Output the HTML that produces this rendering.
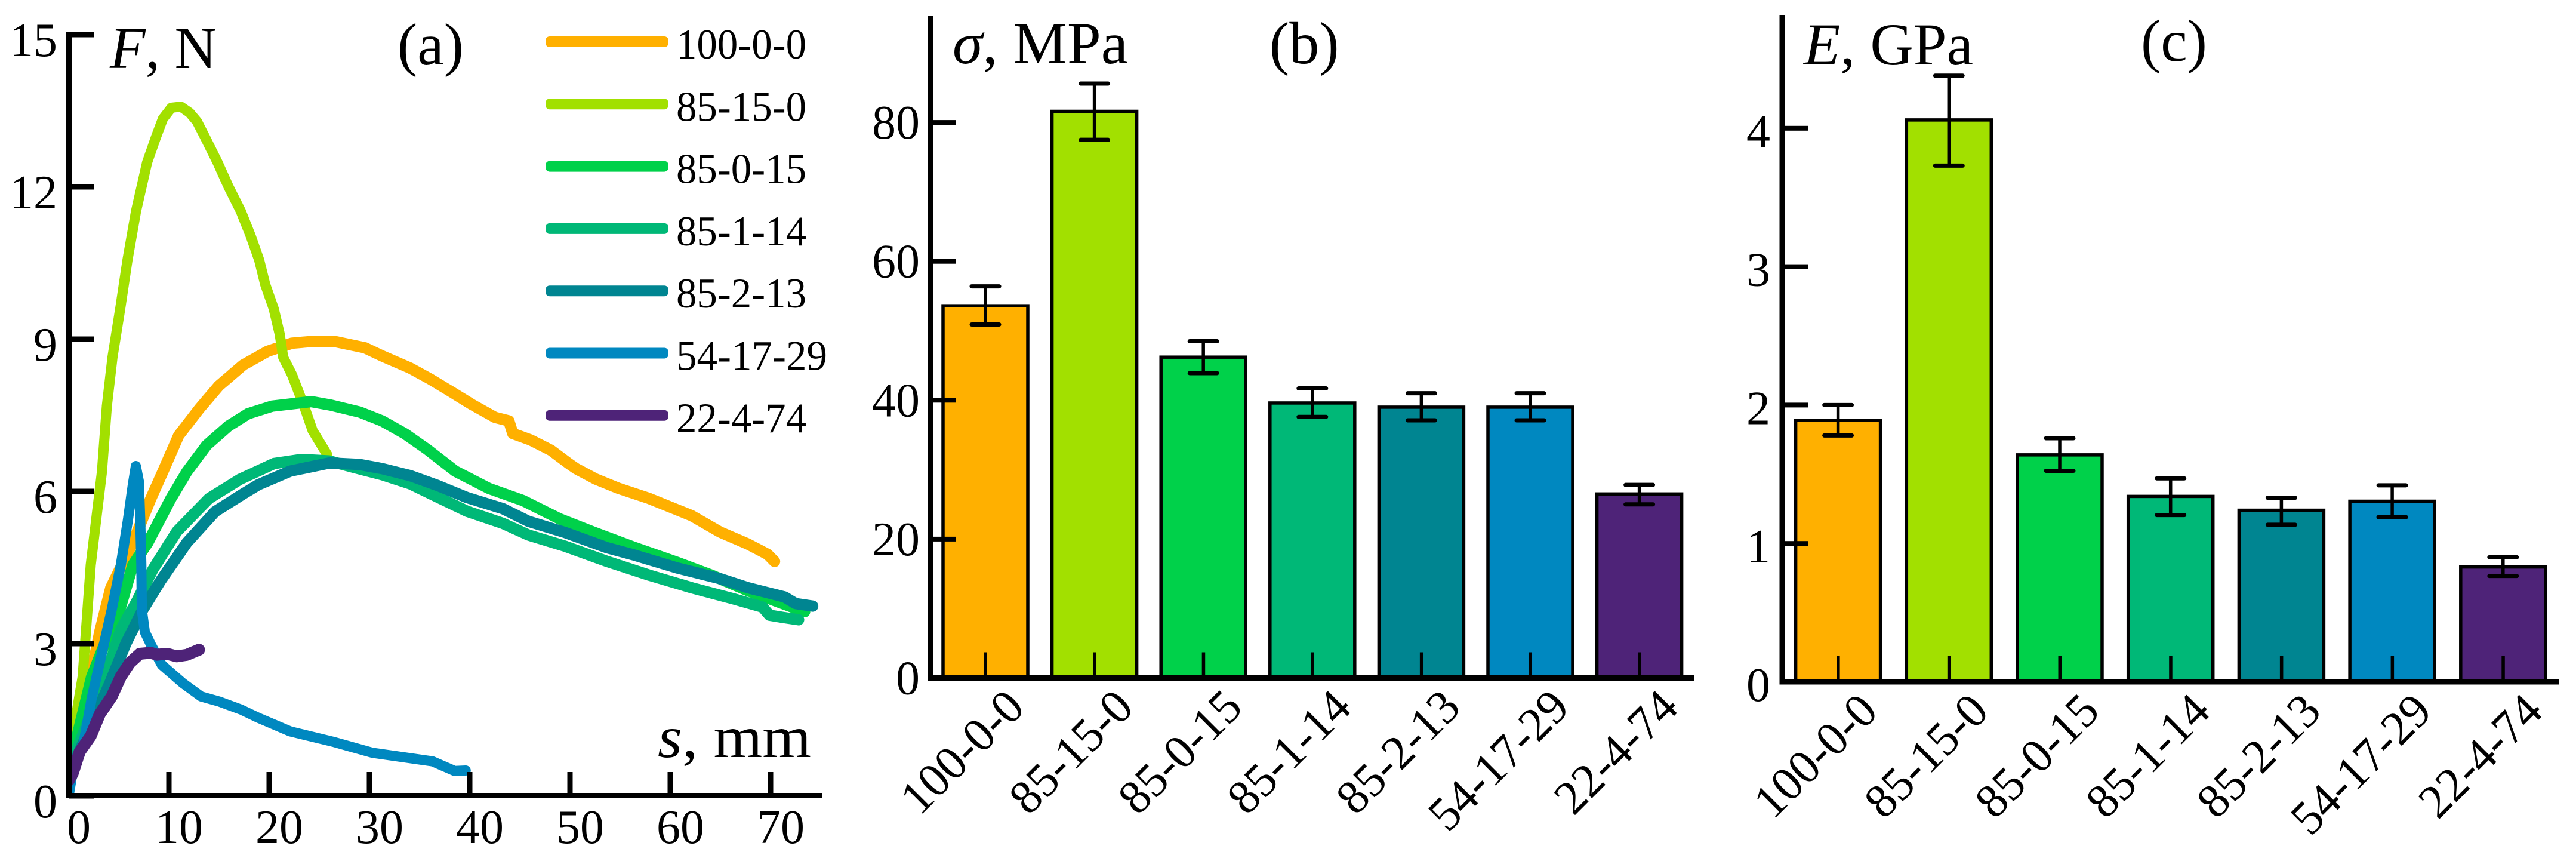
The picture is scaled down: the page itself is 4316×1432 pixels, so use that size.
<!DOCTYPE html>
<html lang="en">
<head>
<meta charset="utf-8">
<title>Mechanical properties charts</title>
<style>
html,body{margin:0;padding:0;background:#fff;}
svg{display:block;}
text{font-family:"Liberation Serif",serif;fill:#000;}
</style>
</head>
<body>
<svg id="fig" xmlns="http://www.w3.org/2000/svg" width="4316" height="1432" viewBox="0 0 4316 1432">
  <rect x="0" y="0" width="4316" height="1432" fill="#fff"/>
  <g id="panelA"></g>
  <g id="panelB"></g>
  <g id="panelC"></g>
  <text x="184" y="114" font-size="100" textLength="179" lengthAdjust="spacingAndGlyphs"><tspan font-style="italic">F</tspan>, N</text>
  <text x="666" y="108" font-size="100">(a)</text>
  <text x="1102" y="1268" font-size="100" textLength="257" lengthAdjust="spacingAndGlyphs"><tspan font-style="italic">s</tspan>, mm</text>
  <text x="1596" y="106" font-size="100" textLength="294" lengthAdjust="spacingAndGlyphs"><tspan font-style="italic">σ</tspan>, MPa</text>
  <text x="2127" y="106" font-size="100">(b)</text>
  <text x="3022" y="108" font-size="100" textLength="284" lengthAdjust="spacingAndGlyphs"><tspan font-style="italic">E</tspan>, GPa</text>
  <text x="3587" y="102" font-size="100">(c)</text>
</svg>
<script>
// ---------- shared data ----------
const categories = ["100-0-0","85-15-0","85-0-15","85-1-14","85-2-13","54-17-29","22-4-74"];
const seriesColors = ["#FFB000","#A2E000","#00D14A","#00B877","#008591","#0088C0","#4E2378"];

// ---------- panel (a): s (mm) and F (N) per series ----------
const s100 = [0,1.2,2.2,3.1,4.2,6.4,8.2,9.4,10.97,13.04,14.98,17.4,19.84,22.27,23.97,26.64,29.55,31.25,34.06,36,38.27,40.24,42.5,43.9,44.3,46.1,48.1,49.8,50.6,52.6,54.85,57.9,62.15,64.96,67.77,69.7,70.4];
const f100 = [0.5,1.5,2.35,3.23,4.1,4.99,5.86,6.39,7.1,7.63,8.08,8.49,8.76,8.92,8.95,8.95,8.83,8.67,8.43,8.22,7.95,7.71,7.46,7.39,7.14,7.01,6.81,6.56,6.45,6.24,6.06,5.86,5.52,5.2,4.96,4.76,4.62];
const s8515 = [0,0.3,1.4,2.2,3.32,3.81,4.37,5.14,5.87,6.72,7.82,8.67,9.39,10.25,11.2,12.07,12.8,13.65,14.86,15.95,17.17,18.14,19,19.6,20.45,21.05,21.4,22.27,23.48,24.33,25.8];
const f8515 = [0.6,1.05,2.35,4.55,6.39,7.68,8.64,9.6,10.56,11.52,12.48,12.96,13.34,13.56,13.58,13.46,13.29,12.96,12.48,12,11.52,11.04,10.56,10.08,9.6,9.1,8.64,8.3,7.68,7.2,6.72];
const s8500 = [0,1,2.3,3.6,5.1,6.4,7.9,10.2,11.8,13.77,15.95,17.9,20.3,24.2,26.15,29.07,31.25,33.5,35.75,38.55,41.9,45.3,48.95,52.3,56.5,60.7,64.1,67.8,73.4];
const f8500 = [0.5,1.3,2.35,3,3.67,4.55,4.99,5.86,6.39,6.91,7.29,7.53,7.68,7.77,7.7,7.56,7.39,7.14,6.83,6.4,6.06,5.82,5.46,5.2,4.89,4.6,4.35,4.04,3.63];
const s8501 = [0,2.2,3.7,5.2,6.7,8.4,10.8,14,17.1,20.5,23.2,26,28.5,31.25,34.06,36.87,39.7,43.3,45.86,49.5,53.7,57.9,62.15,66.36,69.2,69.9,71.1,72.8];
const f8501 = [0.5,1.6,2.35,3.28,3.8,4.46,5.21,5.86,6.24,6.55,6.63,6.6,6.47,6.33,6.15,5.88,5.61,5.37,5.14,4.92,4.62,4.35,4.1,3.88,3.72,3.56,3.52,3.47];
const s8502 = [0,2.7,4.1,5.7,7.4,9.2,11.8,14.6,17.4,18.9,22.1,26,29,31.25,34.06,36.87,39.7,43.3,45.86,49.5,53.7,56.5,60.7,64.96,67.77,71.4,72.5,74.2];
const f8502 = [0.4,1.6,2.22,3,3.67,4.25,4.99,5.6,5.95,6.13,6.4,6.56,6.53,6.45,6.31,6.11,5.88,5.66,5.41,5.19,4.89,4.74,4.49,4.28,4.1,3.92,3.79,3.74];
const s5417 = [0,0.3,1.5,2.3,3.3,4.3,5.2,5.9,6.4,6.7,7,7.14,7.25,7.3,7.6,8.2,9.3,11.4,13.2,15,17.2,18.9,22.1,26.5,30.3,36.3,38.5,39.6];
const f5417 = [0,0.35,1.05,1.92,2.8,3.67,4.55,5.42,6.13,6.5,6.2,5.42,4.55,3.67,3.23,2.98,2.58,2.22,1.96,1.86,1.7,1.54,1.27,1.06,0.85,0.68,0.49,0.5];
const s2204 = [0,0.4,1.1,2.2,3.1,4.3,5.2,6.1,7.1,8.2,8.8,9.8,10.8,11.8,13];
const f2204 = [0.3,0.44,0.87,1.18,1.61,1.96,2.35,2.62,2.8,2.82,2.78,2.8,2.75,2.78,2.88];
const xTicksA = [0,10,20,30,40,50,60,70];
const yTicksA = [0,3,6,9,12,15];

// ---------- panel (b): sigma, MPa ----------
const sigmaValues = [53.6,81.6,46.2,39.6,39,39,26.5];
const sigmaErrUp = [56.4,85.6,48.5,41.7,41,41,27.8];
const sigmaErrLow = [50.9,77.5,43.9,37.6,37.1,37.1,25];
const yTicksB = [0,20,40,60,80];

// ---------- panel (c): E, GPa ----------
const modulusValues = [1.89,4.06,1.64,1.34,1.24,1.305,0.83];
const modulusErrUp = [2,4.38,1.76,1.47,1.33,1.42,0.9];
const modulusErrLow = [1.78,3.73,1.525,1.205,1.135,1.19,0.765];
const yTicksC = [0,1,2,3,4];

// ---------- helpers ----------
const NS = "http://www.w3.org/2000/svg";
function mk(parent, tag, attrs, txt){
  const e = document.createElementNS(NS, tag);
  for (const k in attrs) e.setAttribute(k, attrs[k]);
  if (txt !== undefined) e.textContent = txt;
  parent.appendChild(e);
  return e;
}

// ---------- panel (a) ----------
const gA = document.getElementById("panelA");
const xA = s => 115 + s * 16.8;
const yA = f => 1333 - f * 85;
const curvesS = [s100,s8515,s8500,s8501,s8502,s5417,s2204];
const curvesF = [f100,f8515,f8500,f8501,f8502,f5417,f2204];
const curveWidths = [19,17,19,19,19,17,20];
curvesS.forEach((sv, i) => {
  const pts = sv.map((s, j) => xA(s).toFixed(1) + "," + yA(curvesF[i][j]).toFixed(1)).join(" ");
  const line = mk(gA, "polyline", {points: pts, fill: "none", stroke: seriesColors[i], "stroke-width": curveWidths[i], "stroke-linejoin": "round", "stroke-linecap": "round"});
  
  
});
const cover = mk(gA, "rect", {x: 0, y: 0, width: 110, height: 1432, fill: "#fff"});


const coverB = mk(gA, "rect", {x: 100, y: 1337, width: 1300, height: 95, fill: "#fff"});



yTicksA.forEach(v => {
  const t = mk(gA, "rect", {x: 115, y: yA(v) - 4.5, width: 43, height: 9, fill: "#000"});
  
  
  const l = mk(gA, "text", {x: 96, y: yA(v) + 36, "font-size": 80, "text-anchor": "end"}, v);
  
  
});
xTicksA.forEach(v => {
  const t = mk(gA, "rect", {x: xA(v) - 4.5, y: 1293, width: 9, height: 40, fill: "#000"});
  
  
  const l = mk(gA, "text", {x: xA(v) + 17, y: 1412, "font-size": 80, "text-anchor": "middle"}, v);
  
  
});
const axAy = mk(gA, "rect", {x: 110, y: 53, width: 10, height: 1284, fill: "#000"});


const axAx = mk(gA, "rect", {x: 110, y: 1328, width: 1267, height: 9, fill: "#000"});



categories.forEach((c, i) => {
  const ly = 70 + i * 104.3;
  const sw = mk(gA, "rect", {x: 914, y: ly - 9, width: 206, height: 18, rx: 7, fill: seriesColors[i]});
  
  
  const tx = mk(gA, "text", {x: 1133, y: ly + 28, "font-size": 71, textLength: c === "54-17-29" ? 253 : 218, lengthAdjust: "spacingAndGlyphs"}, c);
  
  
});

// ---------- bar panels ----------
function barPanel(id, key, cfg, vals, up, low, ticks){
  const g = document.getElementById(id);
  const y = v => cfg.y0 - v * cfg.k;
  const x = i => cfg.x0 + i * cfg.step;
  categories.forEach((c, i) => {
    const b = mk(g, "rect", {x: x(i) - 71, y: y(vals[i]), width: 142, height: cfg.y0 - y(vals[i]), fill: seriesColors[i], stroke: "#000", "stroke-width": 5.5});
    
    
    const e = mk(g, "line", {x1: x(i), y1: y(up[i]), x2: x(i), y2: y(low[i]), stroke: "#000", "stroke-width": 5.5});
    
    
    const cu = mk(g, "line", {x1: x(i) - 23, y1: y(up[i]), x2: x(i) + 23, y2: y(up[i]), stroke: "#000", "stroke-width": 7, "stroke-linecap": "round"});
    
    
    const cl = mk(g, "line", {x1: x(i) - 23, y1: y(low[i]), x2: x(i) + 23, y2: y(low[i]), stroke: "#000", "stroke-width": 7, "stroke-linecap": "round"});
    
    
    const t = mk(g, "rect", {x: x(i) - 2.5, y: cfg.y0 - 43, width: 5.5, height: 43, fill: "#000"});
    
    
    const px = x(i) + cfg.lblDx, py = cfg.y0 + cfg.lblDy;
    const l = mk(g, "text", {x: px, y: py, "font-size": 80, "text-anchor": "end", transform: "rotate(-45 " + px + " " + py + ")"}, c);
    
    
  });
  ticks.forEach(v => {
    const t = mk(g, "rect", {x: cfg.axis, y: y(v) - 4, width: 43, height: 8, fill: "#000"});
    
    
    const l = mk(g, "text", {x: cfg.lblX, y: y(v) + cfg.lblOff, "font-size": 80, "text-anchor": "end"}, v);
    
    
  });
  const ay = mk(g, "rect", {x: cfg.axis - 4.5, y: cfg.top, width: 9, height: cfg.y0 + 4.5 - cfg.top, fill: "#000"});
  
  
  const ax = mk(g, "rect", {x: cfg.axis - 4.5, y: cfg.y0 - 4.5, width: cfg.end - cfg.axis + 4.5, height: 9, fill: "#000"});
  
  
}
barPanel("panelB", "b", {y0: 1135.5, k: 11.63, x0: 1651, step: 182.6, axis: 1559, top: 27, end: 2838, lblX: 1541, lblOff: 27, lblDx: 69, lblDy: 53}, sigmaValues, sigmaErrUp, sigmaErrLow, yTicksB);
barPanel("panelC", "c", {y0: 1142, k: 231.8, x0: 3079.6, step: 185.7, axis: 2986, top: 25, end: 4288, lblX: 2966, lblOff: 32, lblDx: 70, lblDy: 53}, modulusValues, modulusErrUp, modulusErrLow, yTicksC);
</script>
</body>
</html>
